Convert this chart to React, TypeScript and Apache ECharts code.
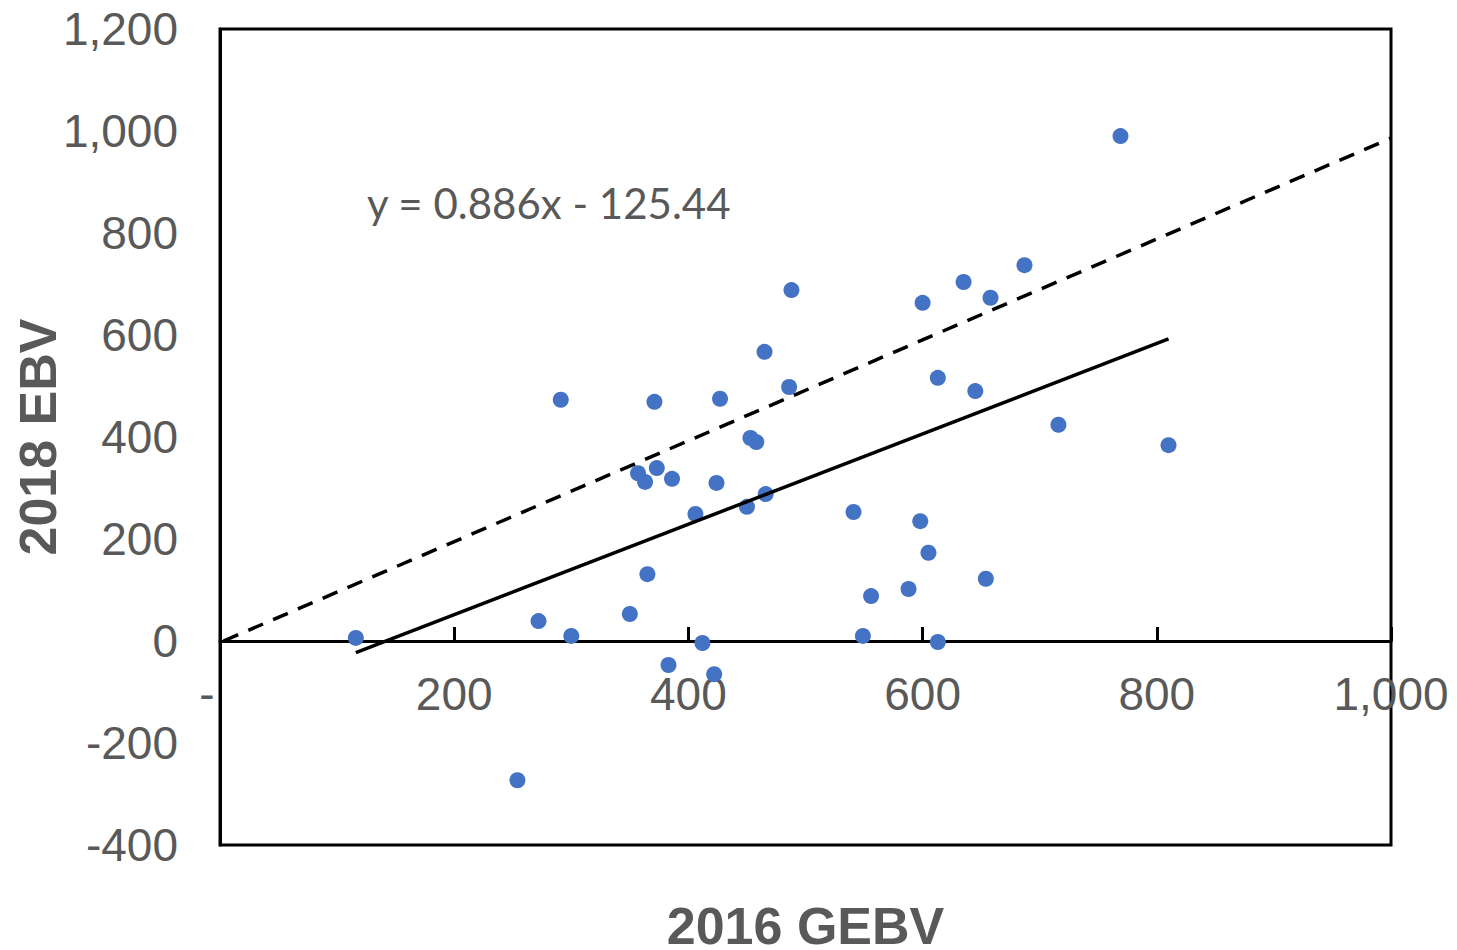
import React, { useEffect, useRef } from "react";
import * as echarts from "echarts";

// 2016 GEBV (x) vs 2018 EBV (y)
const gebv2016 = [116, 254, 272, 291, 300, 350, 357, 363, 365, 371, 373, 383, 386, 406, 412, 422, 424, 427, 450, 453, 458, 465, 466, 486, 488, 541, 549, 556, 588, 598, 600, 605, 613, 613, 635, 645, 654, 658, 687, 716, 769, 810];
const ebv2018 = [6, -273, 39, 473, 10, 53, 329, 312, 131, 469, 339, -47, 318, 249, -4, -65, 310, 475, 263, 398, 390, 567, 288, 498, 688, 253, 10, 88, 102, 235, 663, 173, 516, -2, 704, 490, 122, 673, 737, 424, 990, 384];

const slope = 0.886;
const intercept = -125.44;
const equationText = "y = 0.886x - 125.44";
const refLine = [[3, 0], [1000, 986]];

const xTicks = { min: 0, max: 1000, interval: 200 };
const yTicks = { min: -400, max: 1200, interval: 200 };

const GRID_TOP = 29;
const GRID_BOTTOM_PX = 845;

export default function App() {
  const ref = useRef<HTMLDivElement>(null);
  useEffect(() => {
    const chart = echarts.init(ref.current!, null, { renderer: "svg" });
    const points = gebv2016.map((x, i) => [x, ebv2018[i]]);
    const xMin = Math.min(...gebv2016);
    const xMax = Math.max(...gebv2016);
    const fit = [
      [xMin, slope * xMin + intercept],
      [xMax, slope * xMax + intercept],
    ];
    // place the x axis on the y = 0 line
    const plotH = GRID_BOTTOM_PX - GRID_TOP;
    const zeroOffset = (plotH * (0 - yTicks.min)) / (yTicks.max - yTicks.min);
    const labelFont = { fontFamily: "Liberation Sans", fontSize: 46, color: "#595959" };
    chart.setOption({
      animation: false,
      backgroundColor: "#fff",
      grid: { left: 220, right: 66, top: GRID_TOP, bottom: 950 - GRID_BOTTOM_PX, show: true, borderColor: "#000", borderWidth: 3, containLabel: false, outerBoundsMode: "none" },
      xAxis: {
        type: "value",
        ...xTicks,
        offset: -zeroOffset,
        axisLine: { onZero: false, lineStyle: { color: "#000", width: 3 } },
        axisTick: { show: true, inside: true, length: 14, lineStyle: { color: "#000", width: 3 } },
        splitLine: { show: false },
        axisLabel: {
          ...labelFont,
          margin: 30,
          showMinLabel: true,
          showMaxLabel: true,
          formatter: (v: number) => (v === 0 ? "{d|-}" : v.toLocaleString("en-US")),
          rich: { d: { ...labelFont, padding: [0, 26, 0, 0] } },
        },
        name: "2016 GEBV",
        nameLocation: "middle",
        nameGap: 263,
        nameMoveOverlap: false,
        nameTextStyle: { fontFamily: "Liberation Sans", fontSize: 52, lineHeight: 44, fontWeight: "bold", color: "#595959" },
      },
      yAxis: {
        type: "value",
        ...yTicks,
        axisLine: { show: true, onZero: false, lineStyle: { color: "#000", width: 3 } },
        axisTick: { show: false },
        splitLine: { show: false },
        axisLabel: { ...labelFont, margin: 42, formatter: (v: number) => v.toLocaleString("en-US") },
        name: "2018 EBV",
        nameLocation: "middle",
        nameRotate: 90,
        nameGap: 156,
        nameMoveOverlap: false,
        nameTextStyle: { fontFamily: "Liberation Sans", fontSize: 52, fontWeight: "bold", color: "#595959" },
      },
      graphic: [
        {
          type: "text",
          left: 367,
          top: 182,
          style: { text: equationText, fontFamily: "Lato", fontSize: 42, fill: "#595959" },
        },
      ],
      series: [
        {
          type: "scatter",
          data: points,
          symbolSize: 16,
          itemStyle: { color: "#4472C4", opacity: 1 },
          z: 2,
        },
        {
          type: "line",
          data: refLine,
          symbol: "none",
          lineStyle: { color: "#000", width: 3.5, type: [16, 11] },
          z: 3,
        },
        {
          type: "line",
          data: fit,
          symbol: "none",
          lineStyle: { color: "#000", width: 3.5 },
          z: 3,
        },
      ],
    });
    return () => chart.dispose();
  }, []);
  return <div ref={ref} style={{ position: "absolute", left: 0, top: 0, width: 1457, height: 950 }} />;
}
